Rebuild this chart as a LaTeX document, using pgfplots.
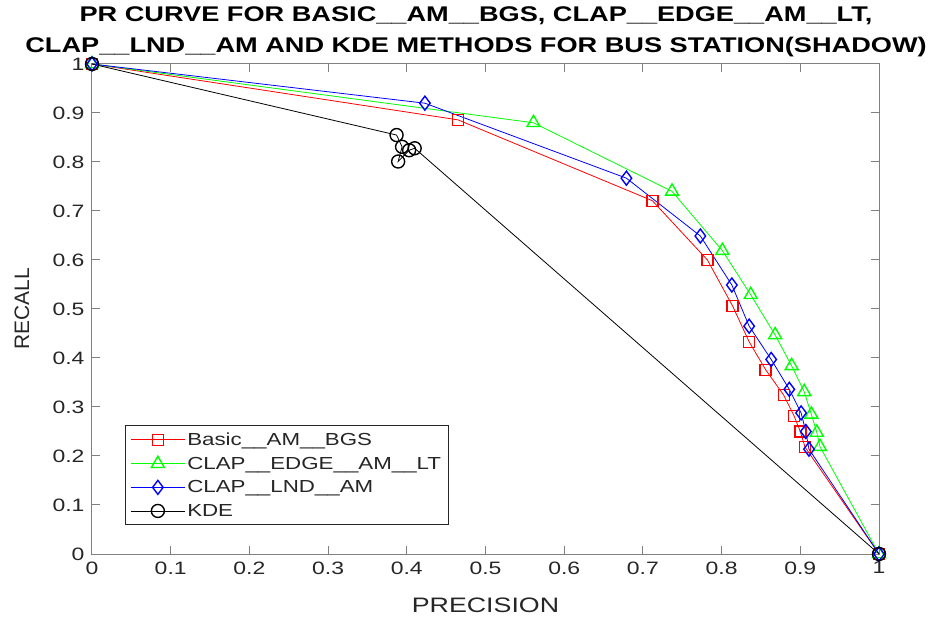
\documentclass[border=0pt]{standalone}
\usepackage{pgfplots}
\pgfplotsset{compat=1.18}
\usepackage{fontspec}
\setmainfont{Liberation Sans}[FakeStretch=1.28]
\newfontfamily\plainfont{Liberation Sans}
\definecolor{axgray}{RGB}{128,128,128}
\definecolor{txt}{RGB}{38,38,38}
\definecolor{mred}{RGB}{255,0,0}
\definecolor{mgreen}{RGB}{0,255,0}
\definecolor{mblue}{RGB}{0,0,255}
\begin{document}
\begin{tikzpicture}
\path[use as bounding box] (-92bp,-65bp) rectangle (846bp,554bp);
\begin{axis}[
  at={(0,0)}, anchor=south west,
  scale only axis, width=787bp, height=490bp,
  xmin=0, xmax=1, ymin=0, ymax=1,
  xtick={0,0.1,0.2,0.3,0.4,0.5,0.6,0.7,0.8,0.9,1},
  ytick={0,0.1,0.2,0.3,0.4,0.5,0.6,0.7,0.8,0.9,1},
  xticklabels={0,0.1,0.2,0.3,0.4,0.5,0.6,0.7,0.8,0.9,1},
  yticklabels={0,0.1,0.2,0.3,0.4,0.5,0.6,0.7,0.8,0.9,1},
  tick align=inside, major tick length=8bp,
  axis line style={axgray, line width=1bp},
  tick style={axgray, line width=1bp},
  ticklabel style={font=\fontsize{18}{20}\selectfont, text=txt},
  xticklabel style={yshift=-4bp},
  yticklabel style={xshift=-4bp},
  xlabel={PRECISION}, ylabel={\plainfont RECALL},
  label style={font=\fontsize{21}{24}\selectfont, text=txt},
  xlabel style={at={(axis description cs:0.5,-0.104)}, anchor=center},
  ylabel style={at={(axis description cs:-0.089,0.5)}, anchor=center},
  title={PR CURVE FOR BASIC\_\_AM\_\_BGS, CLAP\_\_EDGE\_\_AM\_\_LT,\\CLAP\_\_LND\_\_AM AND KDE METHODS FOR BUS STATION(SHADOW)},
  title style={at={(axis description cs:0.488,1)}, anchor=south, yshift=-2bp, align=center, font=\bfseries\fontsize{21.3}{31}\selectfont},
  clip=false,
  legend style={at={(axis description cs:0.042,0.059)}, anchor=south west, draw=txt, line width=0.8bp, font=\fontsize{17.5}{20}\selectfont, text=txt, inner sep=5bp, row sep=6bp},
  legend cell align=left,
  legend image code/.code={\draw[mark repeat=2,mark phase=2,#1] plot coordinates {(0bp,0bp) (27bp,0bp) (54bp,0bp)};},
]
\addplot[mred, line width=0.8bp, mark=square, mark size=5.5bp, mark options={line width=1.4bp, solid}] coordinates {
(0,1) (0.465,0.886) (0.712,0.721) (0.782,0.600) (0.814,0.506) (0.835,0.433) (0.856,0.376) (0.879,0.324) (0.892,0.282) (0.900,0.250) (0.906,0.218) (1,0)};
\addlegendentry{Basic\_\_AM\_\_BGS}
\addplot[mgreen, line width=0.8bp, mark=triangle, mark size=7.5bp, mark options={line width=1.4bp, solid}] coordinates {
(0,1) (0.561,0.880) (0.737,0.740) (0.801,0.619) (0.837,0.529) (0.868,0.447) (0.889,0.384) (0.905,0.331) (0.914,0.285) (0.921,0.248) (0.925,0.219) (1,0)};
\addlegendentry{CLAP\_\_EDGE\_\_AM\_\_LT}
\addplot[mblue, line width=0.8bp, mark=diamond, mark size=7bp, mark options={line width=1.4bp, solid}] coordinates {
(0,1) (0.423,0.920) (0.679,0.767) (0.773,0.649) (0.813,0.549) (0.835,0.465) (0.863,0.397) (0.886,0.336) (0.901,0.288) (0.907,0.250) (0.911,0.214) (1,0)};
\addlegendentry{CLAP\_\_LND\_\_AM}
\addplot[black, line width=0.8bp, mark=o, mark size=6.5bp, mark options={line width=1.4bp, solid}] coordinates {
(0,1) (0.387,0.855) (0.394,0.831) (0.389,0.801) (0.403,0.824) (0.410,0.828) (1,0)};
\addlegendentry{KDE}
\end{axis}
\end{tikzpicture}
\end{document}
